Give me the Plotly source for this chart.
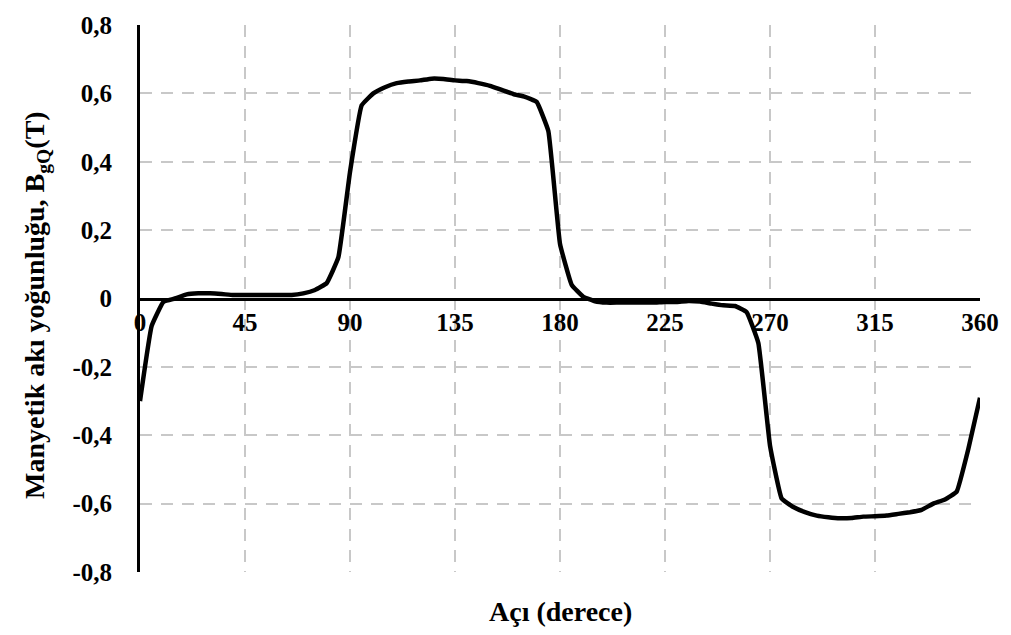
import plotly.graph_objects as go

angle_deg = list(range(0, 361, 5))
flux_T = [
    -0.30, -0.08, -0.01, 0.0, 0.012, 0.015, 0.015, 0.013, 0.01, 0.01,
    0.01, 0.01, 0.01, 0.01, 0.015, 0.025, 0.045, 0.12, 0.37, 0.565,
    0.60, 0.618, 0.63, 0.635, 0.638, 0.643, 0.642, 0.638, 0.636, 0.63,
    0.622, 0.61, 0.598, 0.59, 0.575, 0.49, 0.16, 0.04, 0.005, -0.008,
    -0.012, -0.012, -0.012, -0.012, -0.012, -0.01, -0.01, -0.007, -0.009, -0.015,
    -0.02, -0.022, -0.04, -0.13, -0.43, -0.585, -0.61, -0.625, -0.635, -0.64,
    -0.643, -0.642, -0.638, -0.637, -0.635, -0.63, -0.625, -0.618, -0.60, -0.588,
    -0.565, -0.44, -0.29,
]
x_ticks = [0, 45, 90, 135, 180, 225, 270, 315, 360]
y_ticks = [-0.8, -0.6, -0.4, -0.2, 0, 0.2, 0.4, 0.6, 0.8]
y_tick_labels = ["-0,8", "-0,6", "-0,4", "-0,2", "0", "0,2", "0,4", "0,6", "0,8"]

FONT = "Liberation Serif"
grid_col = "#c8c8c8"

fig = go.Figure()
fig.add_trace(go.Scatter(
    x=angle_deg, y=flux_T, mode="lines",
    line=dict(color="black", width=4.5, shape="spline", smoothing=0.3),
    showlegend=False, hoverinfo="skip",
))

fig.update_layout(
    width=1011, height=635,
    margin=dict(l=140, r=25, t=19, b=63),
    paper_bgcolor="white", plot_bgcolor="white",
    font=dict(family=FONT, size=25, color="black", weight="bold"),
    xaxis=dict(
        range=[0, 360], tickvals=x_ticks, ticktext=[str(v) for v in x_ticks],
        showgrid=True, gridcolor=grid_col, griddash="12px,9px", gridwidth=2,
        zeroline=False, showline=True, linecolor="black", linewidth=3,
        anchor="free", position=0.5, ticks="",
        tickfont=dict(family=FONT, size=25, color="black", weight="bold"),
        title=None,
    ),
    yaxis=dict(
        range=[-0.8, 0.8], tickvals=y_ticks, ticktext=y_tick_labels,
        showgrid=True, gridcolor=grid_col, griddash="12px,9px", gridwidth=2,
        zeroline=False, showline=True, linecolor="black", linewidth=3,
        ticks="", ticklabelstandoff=20,
        tickfont=dict(family=FONT, size=25, color="black", weight="bold"),
        title=None,
    ),
)

fig.add_annotation(
    text="Açı (derece)", xref="paper", yref="paper", x=0.5, y=-0.072,
    xanchor="center", yanchor="middle", showarrow=False,
    font=dict(family=FONT, size=28, color="black", weight="bold"),
)
fig.add_annotation(
    text="Manyetik akı yoğunluğu, B<sub>gQ</sub>(T)", xref="paper", yref="paper",
    x=-0.124, y=0.488, xanchor="center", yanchor="middle", textangle=-90,
    showarrow=False,
    font=dict(family=FONT, size=28, color="black", weight="bold"),
)

fig.write_html("out.html")
